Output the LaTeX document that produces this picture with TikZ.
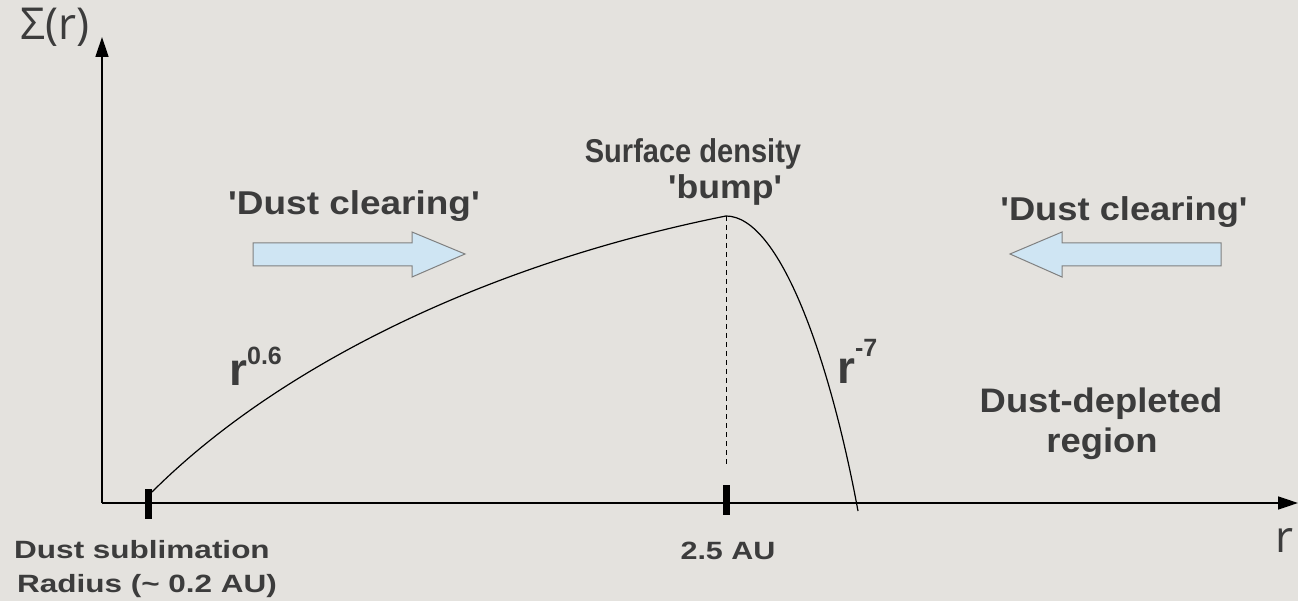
\documentclass[tikz,border=0pt]{standalone}
\usepackage{graphicx}
\usepackage{fontspec}
\setmainfont{Liberation Sans}[Ligatures=TeXOff]
\newfontfamily\axisfont{Open Sans}
\usetikzlibrary{arrows.meta}
\definecolor{bgc}{HTML}{E4E2DE}
\definecolor{txt}{HTML}{3C3C3C}
\definecolor{arrfill}{HTML}{CFE5F3}
\definecolor{arrline}{HTML}{808080}
\tikzset{
  lbl/.style={font=\bfseries\fontsize{33}{38}\selectfont, text=txt, inner sep=0pt, anchor=base},
  lblc/.style={font=\bfseries\fontsize{34}{40}\selectfont, text=txt, inner sep=0pt, anchor=base},
  small/.style={font=\bfseries\fontsize{25}{31}\selectfont, text=txt, inner sep=0pt, anchor=base},
  powlbl/.style={font=\bfseries\fontsize{46}{50}\selectfont, text=txt, inner sep=0pt, anchor=base west},
  axlbl/.style={font=\axisfont\fontsize{44}{50}\selectfont, text=txt, inner sep=0pt},
  axisline/.style={line width=1.4pt, black, -{Triangle[length=20pt,width=13pt]}},
  curve/.style={line width=1.2pt, black},
  tickmark/.style={line width=7pt, black},
  fatarrow/.style={fill=arrfill, draw=arrline, line width=1pt, line join=miter}
}
\newcommand{\supfont}{\fontsize{25}{25}\selectfont}
\begin{document}
\begin{tikzpicture}[x=1pt,y=-1pt]
\fill[bgc] (0,0) rectangle (1298,601);
\useasboundingbox (0,0) rectangle (1298,601);
% axes
\coordinate (O) at (102,503);
\coordinate (ytip) at (102,37);
\coordinate (xtip) at (1298,503);
\draw[axisline] (O) -- (ytip);
\draw[axisline] (O) -- (xtip);
\node[axlbl] (sig) at (55,27) {Σ(r)};
\node[axlbl] (rlab) at (1284,541) {r};
% ticks
\coordinate (t1a) at (148,489);
\coordinate (t1b) at (148,519);
\coordinate (t2a) at (726,485);
\coordinate (t2b) at (726,515);
\draw[tickmark] (t1a) -- (t1b);
\draw[tickmark] (t2a) -- (t2b);
% dashed line
\coordinate (peak) at (726,216);
\coordinate (dashend) at (726,467);
\draw[line width=0.9pt, dash pattern=on 5pt off 4pt] (peak) -- (dashend);
% rising curve
\coordinate (start) at (152,492);
\draw[curve] (start) .. controls (272,372) and (476,266) .. (peak);
% falling curve
\coordinate (fallend) at (858,511);
\draw[curve] (peak) .. controls (780,216) and (830,360) .. (fallend);
% fat arrows
\draw[fatarrow] (253,243) -- (412,243) -- (412,232) -- (465,254) -- (412,277) -- (412,266) -- (253,266) -- cycle;
\draw[fatarrow] (1221,243) -- (1062,243) -- (1062,232) -- (1010,254) -- (1062,277) -- (1062,266) -- (1221,266) -- cycle;
% labels
\node[lbl] (dc1) at (354,215) {\scalebox{1.12}[1]{'Dust clearing'}};
\node[lbl] (dc2) at (1124,221) {\scalebox{1.10}[1]{'Dust clearing'}};
\node[lbl] (surf) at (693,163) {\scalebox{0.88}[1]{Surface density}};
\node[lbl] (bump) at (725,199) {\scalebox{1.08}[1]{'bump'}};
\node[lblc] (dd1) at (1101,412) {\scalebox{1.07}[1]{Dust-depleted}};
\node[lblc] (dd2) at (1102,452) {\scalebox{1.07}[1]{region}};
\node[powlbl] (r06) at (229,385) {r\raisebox{21pt}{\supfont 0.6}};
\node[powlbl] (r7) at (837,383) {r\raisebox{26pt}{\supfont -7}};
\node[small] (au) at (728,559) {\scalebox{1.22}[1]{2.5 AU}};
\node[small] (subl1) at (142,558) {\scalebox{1.26}[1]{Dust sublimation}};
\node[small] (subl2) at (147,592) {\scalebox{1.26}[1]{Radius (\char`~\ 0.2 AU)}};
\end{tikzpicture}
\end{document}
